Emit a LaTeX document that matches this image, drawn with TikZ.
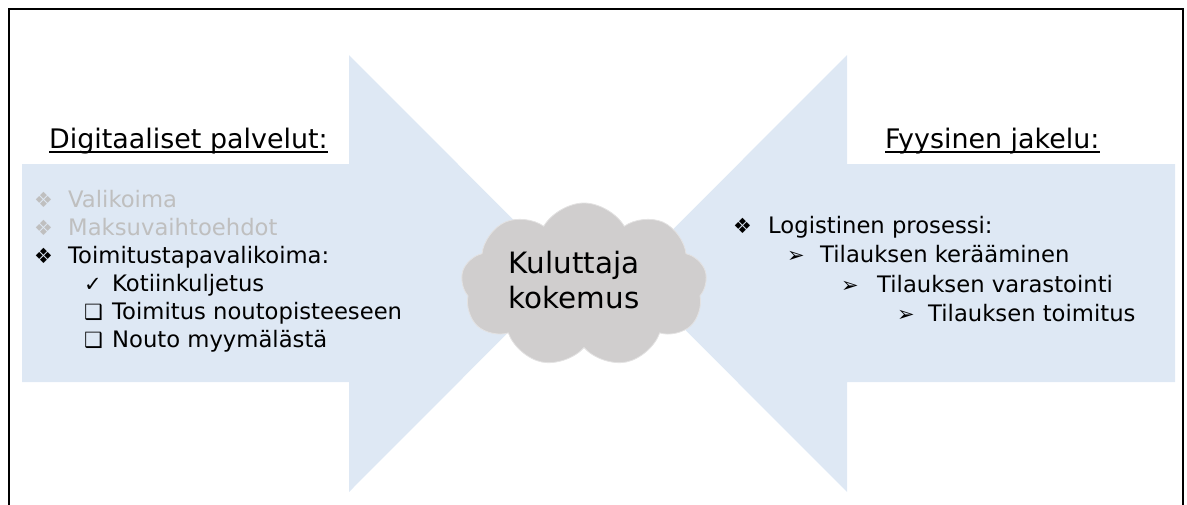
\documentclass[tikz,border=0pt]{standalone}
\usepackage{fontspec}
\setmainfont{DejaVu Sans}
\usetikzlibrary{shapes.symbols}
\definecolor{arrowblue}{HTML}{DEE8F4}
\definecolor{cloudgray}{HTML}{D0CECE}
\definecolor{fadedtxt}{HTML}{BFBFBF}
\tikzset{
  txt/.style={anchor=base west, inner sep=0pt, font=\fontsize{22.7}{27}\selectfont},
  headtxt/.style={anchor=base west, inner sep=0pt, font=\fontsize{26.9}{32}\selectfont},
  bul/.style={anchor=base west, inner sep=0pt, font=\fontsize{21}{24}\selectfont},
  cloudtxt/.style={anchor=base, inner sep=0pt, font=\fontsize{29.4}{35}\selectfont},
  bigarrow/.style={fill=arrowblue},
  frame/.style={line width=2.8pt, draw=black},
  uline/.style={line width=1.5pt}
}
\begin{document}
\begin{tikzpicture}[x=1pt,y=-1pt]
\useasboundingbox (0,0) rectangle (1187,504);
% arrows
\fill[bigarrow] (22,164) -- (349,164) -- (349,55) -- (567,273.5) -- (349,492) -- (349,382) -- (22,382) -- cycle;
\fill[bigarrow] (1175,164) -- (847,164) -- (847,55) -- (629,273.5) -- (847,492) -- (847,382) -- (1175,382) -- cycle;
% frame
\draw[frame] (9,506) -- (9,9) -- (1183,9) -- (1183,506);
% cloud
\node[cloud, cloud puffs=9, cloud puff arc=120, cloud ignores aspect,
      minimum width=246pt, minimum height=164pt, inner sep=0pt,
      fill=cloudgray, draw=cloudgray!60!white, line width=0.8pt] (cloud) at (584,285) {};
\node[cloudtxt] (c1) at (574,273) {Kuluttaja};
\node[cloudtxt] (c2) at (574,308) {kokemus};
% left heading
\node[headtxt] (h1) at (49,148) {Digitaaliset palvelut:};
\draw[uline] ([yshift=-4pt]h1.base west) -- ([yshift=-4pt]h1.base east);
% right heading
\node[headtxt] (h2) at (885,148) {Fyysinen jakelu:};
\draw[uline] ([yshift=-4pt]h2.base west) -- ([yshift=-4pt]h2.base east);
% left list
\node[bul, text=fadedtxt] (lb1) at (34,207.5) {❖};
\node[txt, text=fadedtxt] (l1) at (68,207.5) {Valikoima};
\node[bul, text=fadedtxt] (lb2) at (34,235.4) {❖};
\node[txt, text=fadedtxt] (l2) at (68,235.4) {Maksuvaihtoehdot};
\node[bul] (lb3) at (34,263.3) {❖};
\node[txt] (l3) at (68,263.3) {Toimitustapavalikoima:};
\node[bul] (lb4) at (84,291.2) {✓};
\node[txt] (l4) at (112,291.2) {Kotiinkuljetus};
\node[bul] (lb5) at (84,319.1) {❑};
\node[txt] (l5) at (112,319.1) {Toimitus noutopisteeseen};
\node[bul] (lb6) at (84,347) {❑};
\node[txt] (l6) at (112,347) {Nouto myymälästä};
% right list
\node[bul] (rb1) at (733,233) {❖};
\node[txt] (r1) at (768,233) {Logistinen prosessi:};
\node[bul] (rb2) at (787,262.5) {➢};
\node[txt] (r2) at (820,262.5) {Tilauksen kerääminen};
\node[bul] (rb3) at (841,292) {➢};
\node[txt] (r3) at (877,292) {Tilauksen varastointi};
\node[bul] (rb4) at (897,321.5) {➢};
\node[txt] (r4) at (928,321.5) {Tilauksen toimitus};
\end{tikzpicture}
\end{document}
